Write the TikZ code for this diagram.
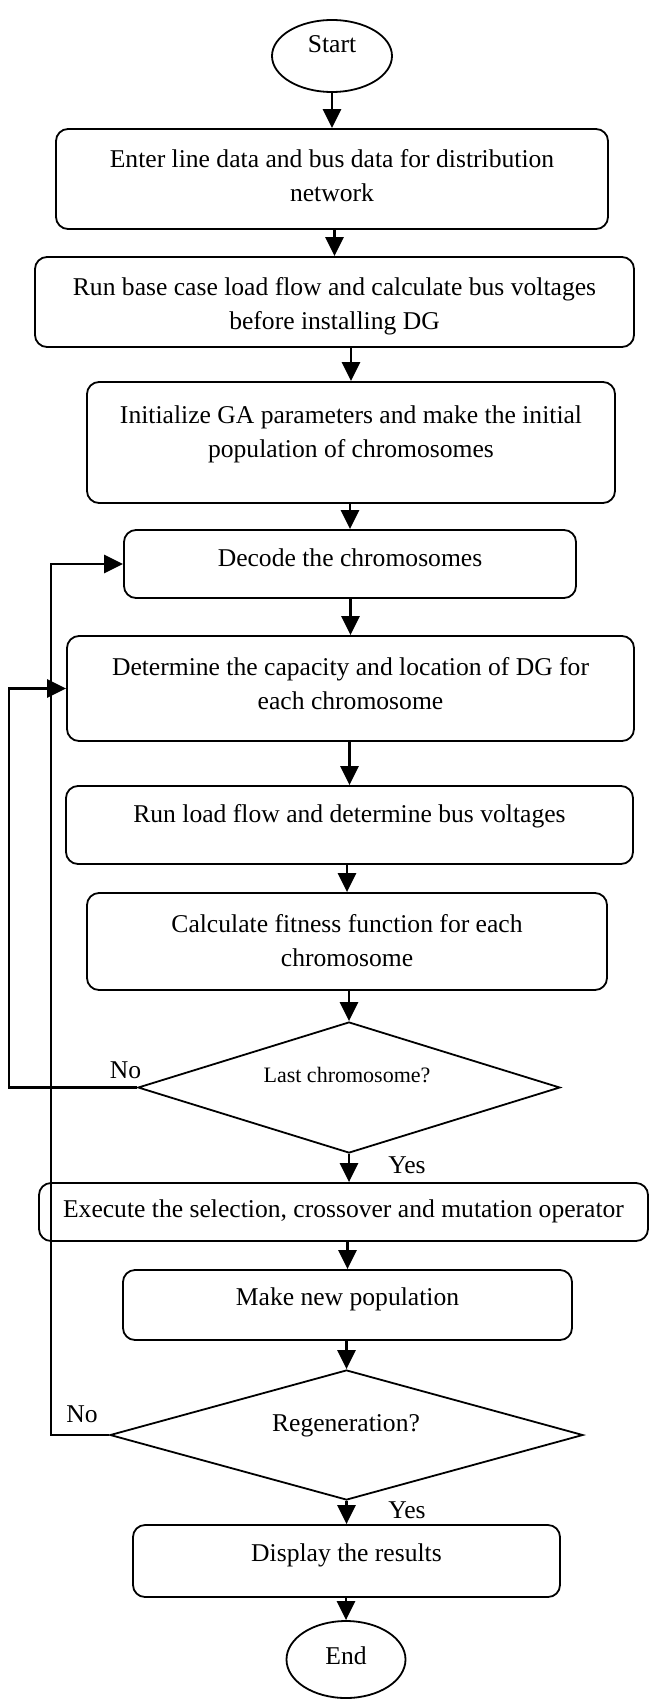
\documentclass[tikz,border=0pt]{standalone}
\usepackage{fontspec}
\setmainfont{Liberation Serif}
\usetikzlibrary{arrows.meta,shapes.geometric}
\newcommand{\flowfont}{\fontsize{25.6}{34}\selectfont}
\newcommand{\smallflowfont}{\fontsize{22}{29}\selectfont}
\newcommand{\lifted}[2]{\raisebox{#1}[\height][\depth]{\begin{tabular}{@{}c@{}}#2\end{tabular}}}
\begin{document}
\begin{tikzpicture}[x=1pt,y=-1pt,
  shapeline/.style={draw=black, line width=1.8pt},
  box/.style={shapeline, rectangle, rounded corners=12pt, inner sep=0pt, font=\flowfont},
  term/.style={shapeline, ellipse, inner sep=0pt, font=\flowfont},
  decision/.style={shapeline, diamond, inner sep=0pt},
  lbl/.style={inner sep=0pt, anchor=base, font=\flowfont},
  arr/.style={line width=2.6pt, -{Triangle[length=19pt,width=18pt]}}
]
\useasboundingbox (0,0) rectangle (650,1699);

\node[term, minimum width=120pt, minimum height=72pt] (start) at (332,56) {\lifted{10pt}{Start}};
\node[box, minimum width=552pt, minimum height=100pt] (b1) at (332,179) {\lifted{1pt}{Enter line data and bus data for distribution\\network}};
\node[box, minimum width=599pt, minimum height=90pt] (b2) at (334.5,302) {\lifted{-4pt}{Run base case load flow and calculate bus voltages\\before installing DG}};
\node[box, minimum width=528pt, minimum height=121pt] (b3) at (351,442.5) {\lifted{9pt}{Initialize GA parameters and make the initial\\population of chromosomes}};
\node[box, minimum width=452pt, minimum height=68pt] (b4) at (350,564) {\lifted{4pt}{Decode the chromosomes}};
\node[box, minimum width=567pt, minimum height=105pt] (b5) at (350.5,688.5) {\lifted{3pt}{Determine the capacity and location of DG for\\each chromosome}};
\node[box, minimum width=567pt, minimum height=78pt] (b6) at (349.5,825) {\lifted{9pt}{Run load flow and determine bus voltages}};
\node[box, minimum width=520pt, minimum height=97pt] (b7) at (347,941.5) {\lifted{-1pt}{Calculate fitness function for each\\chromosome}};
\node[decision, minimum width=422pt, minimum height=131pt] (d1) at (349,1087.5) {};
\node[lbl, font=\smallflowfont] (d1t) at (347,1082) {Last chromosome?};
\node[box, minimum width=609pt, minimum height=58pt] (b8) at (343.5,1212) {\lifted{1pt}{Execute the selection, crossover and mutation operator}};
\node[box, minimum width=449pt, minimum height=70pt] (b9) at (347.5,1305) {\lifted{6pt}{Make new population}};
\node[decision, minimum width=473pt, minimum height=130pt] (d2) at (346.5,1435) {};
\node[lbl] (d2t) at (346,1431) {Regeneration?};
\node[box, minimum width=427pt, minimum height=72pt] (b10) at (346.5,1561) {\lifted{6pt}{Display the results}};
\node[term, minimum width=119pt, minimum height=77pt] (end) at (346,1659.5) {\lifted{2pt}{End}};

\node[lbl] (no1) at (125.5,1078) {No};
\node[lbl] (yes1) at (407,1173) {Yes};
\node[lbl] (no2) at (82,1422) {No};
\node[lbl] (yes2) at (407,1518) {Yes};

\coordinate (loopA) at (9,0);
\coordinate (loopB) at (51,0);

\draw[arr] (start.south) -- (start.south |- b1.north);
\draw[arr] (b1.south -| b2.north) -- (b2.north);
\draw[arr] (b2.south -| b3.north) -- (b3.north);
\draw[arr] (b3.south -| b4.north) -- (b4.north);
\draw[arr] (b4.south -| b5.north) -- (b5.north);
\draw[arr] (b5.south -| b6.north) -- (b6.north);
\draw[arr] (b6.south -| b7.north) -- (b7.north);
\draw[arr] (b7.south -| d1.north) -- (d1.north);
\draw[arr] (d1.south) -- (d1.south |- b8.north);
\draw[arr] (b8.south -| b9.north) -- (b9.north);
\draw[arr] (b9.south -| d2.north) -- (d2.north);
\draw[arr] (d2.south) -- (d2.south |- b10.north);
\draw[arr] (b10.south -| end.north) -- (end.north);

\draw[arr] (d1.west) -- (d1.west -| loopA) |- (b5.west);
\draw[arr] (d2.west) -- (d2.west -| loopB) |- (b4.west);
\end{tikzpicture}
\end{document}
